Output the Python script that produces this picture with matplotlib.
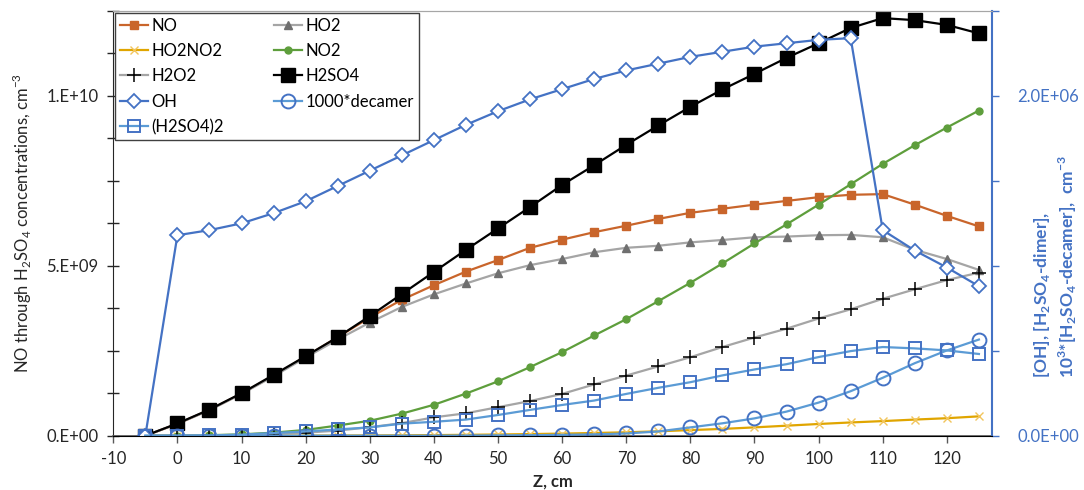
import matplotlib
matplotlib.use("Agg")
import matplotlib.pyplot as plt
from matplotlib.ticker import FixedLocator, MultipleLocator

plt.rcParams['font.family'] = ['Lato', 'DejaVu Sans']
plt.rcParams['mathtext.fontset'] = 'custom'
plt.rcParams['mathtext.rm'] = 'Lato'
plt.rcParams['mathtext.bf'] = 'Lato:bold'
plt.rcParams['axes.unicode_minus'] = False

# ---------------- data ----------------
z = [-5, 0, 5, 10, 15, 20, 25, 30, 35, 40, 45, 50, 55, 60, 65, 70, 75, 80,
     85, 90, 95, 100, 105, 110, 115, 120, 125]

no = [0, 3.5e8, 7.6e8, 1.24e9, 1.77e9, 2.33e9, 2.9e9, 3.48e9, 4.0e9, 4.43e9,
      4.83e9, 5.17e9, 5.53e9, 5.77e9, 5.99e9, 6.18e9, 6.38e9, 6.56e9, 6.68e9,
      6.8e9, 6.91e9, 7.02e9, 7.09e9, 7.11e9, 6.8e9, 6.47e9, 6.16e9]
ho2 = [0, 3.5e8, 7.5e8, 1.23e9, 1.75e9, 2.3e9, 2.83e9, 3.33e9, 3.79e9, 4.16e9,
       4.48e9, 4.78e9, 5.02e9, 5.2e9, 5.4e9, 5.53e9, 5.59e9, 5.69e9, 5.76e9,
       5.84e9, 5.86e9, 5.9e9, 5.91e9, 5.84e9, 5.47e9, 5.2e9, 4.88e9]
ho2no2 = [0, 0, 0, 1e6, 2e6, 3e6, 5e6, 8e6, 1.2e7, 1.8e7, 2.6e7, 3.6e7, 4.8e7,
          6.2e7, 8.0e7, 1.0e8, 1.3e8, 1.65e8, 2.0e8, 2.45e8, 2.95e8, 3.45e8,
          3.9e8, 4.3e8, 4.75e8, 5.15e8, 5.7e8]
no2 = [0, 0, 1.5e7, 4e7, 9e7, 1.7e8, 3.0e8, 4.4e8, 6.5e8, 9.1e8, 1.24e9, 1.6e9,
       2.02e9, 2.46e9, 2.95e9, 3.43e9, 3.96e9, 4.5e9, 5.07e9, 5.66e9, 6.22e9,
       6.8e9, 7.4e9, 8.0e9, 8.55e9, 9.07e9, 9.57e9]
h2o2 = [0, 0, 1e7, 2.5e7, 5e7, 9e7, 1.5e8, 2.5e8, 3.7e8, 5.4e8, 6.6e8, 8.4e8,
        1.02e9, 1.23e9, 1.51e9, 1.77e9, 2.04e9, 2.31e9, 2.61e9, 2.89e9, 3.15e9,
        3.45e9, 3.72e9, 4.03e9, 4.31e9, 4.58e9, 4.8e9]
h2so4 = [0, 3.6e8, 7.7e8, 1.25e9, 1.79e9, 2.34e9, 2.9e9, 3.52e9, 4.17e9, 4.82e9,
         5.47e9, 6.1e9, 6.73e9, 7.38e9, 7.96e9, 8.56e9, 9.13e9, 9.68e9, 1.019e10,
         1.065e10, 1.112e10, 1.155e10, 1.2e10, 1.229e10, 1.223e10, 1.209e10,
         1.184e10]
oh = [0, 1.18e6, 1.21e6, 1.25e6, 1.31e6, 1.38e6, 1.47e6, 1.56e6, 1.65e6, 1.74e6,
      1.83e6, 1.91e6, 1.98e6, 2.04e6, 2.1e6, 2.15e6, 2.19e6, 2.23e6, 2.26e6,
      2.29e6, 2.31e6, 2.33e6, 2.34e6, 1.21e6, 1.09e6, 0.99e6, 0.88e6]
decamer1000 = [0, 0, 0, 0, 0, 0, 0, 0, 0, 0, 1e3, 2e3, 3e3, 5e3, 8e3, 1.3e4,
               2.5e4, 4.9e4, 7.3e4, 1.02e5, 1.42e5, 1.95e5, 2.62e5, 3.41e5,
               4.27e5, 5.02e5, 5.66e5]
dimer = [0, 0, 2e3, 6e3, 1.6e4, 2.5e4, 3.7e4, 4.9e4, 7.1e4, 8.2e4, 9.5e4,
         1.22e5, 1.52e5, 1.81e5, 2.07e5, 2.46e5, 2.82e5, 3.15e5, 3.55e5, 3.9e5,
         4.21e5, 4.63e5, 4.98e5, 5.22e5, 5.14e5, 5.02e5, 4.81e5]

x_ticks = [-10, 0, 10, 20, 30, 40, 50, 60, 70, 80, 90, 100, 110, 120]
left_ticks = [0, 5e9, 1e10]
left_labels = ['0.E+00', '5.E+09', '1.E+10']
right_ticks = [0, 2e6]
right_labels = ['0.0E+00', '2.0E+06']

# ---------------- figure ----------------
BLUE = '#4472C4'
LBLUE = '#5B9BD5'
TXT = '#262626'
fig = plt.figure(figsize=(10.84, 4.90), dpi=100)
ax = fig.add_axes([0.1045, 0.1108, 0.8104, 0.8668])
ax2 = ax.twinx()

lw = 1.6
h_no, = ax.plot(z, no, color='#C9652B', lw=lw, marker='s', ms=5.5, mec='#C9652B', mfc='#C9652B', label='NO')
h_ho2, = ax.plot(z, ho2, color='#A5A5A5', lw=lw, marker='^', ms=5.5, mec='#6F6F6F', mfc='#6F6F6F', label='HO2')
h_ho2no2, = ax.plot(z, ho2no2, color='#E0A500', lw=lw, marker='x', ms=5.5, mec='#F2C55C', mew=1.0, label='HO2NO2')
h_no2, = ax.plot(z, no2, color='#5E9E3C', lw=lw, marker='o', ms=5, mec='#5E9E3C', mfc='#5E9E3C', label='NO2')
h_h2o2, = ax.plot(z, h2o2, color='#A5A5A5', lw=lw, marker='+', ms=10, mec='black', mew=1.1, label='H2O2')
h_h2so4, = ax.plot(z, h2so4, color='black', lw=lw, marker='s', ms=10.5, mec='black', mfc='black', label='H2SO4')

h_oh, = ax2.plot(z, oh, color=BLUE, lw=lw, marker='D', ms=7.5, mec=BLUE, mfc='white', mew=1.3, label='OH')
h_dec, = ax2.plot(z, decamer1000, color=LBLUE, lw=lw, marker='o', ms=10, mec=BLUE, mfc='none', mew=1.4, label='1000*decamer')
h_dim, = ax2.plot(z, dimer, color=LBLUE, lw=lw, marker='s', ms=8.5, mec=BLUE, mfc='none', mew=1.4, label='(H2SO4)2')

# axes ranges / ticks
ax.set_xlim(-10, 127)
ax.set_ylim(0, 1.25e10)
ax2.set_ylim(0, 2.5e6)

ax.xaxis.set_major_locator(FixedLocator(x_ticks))
ax.set_yticks(left_ticks)
ax.set_yticklabels(left_labels)
ax.yaxis.set_minor_locator(MultipleLocator(1.25e9))
ax2.set_yticks(right_ticks)
ax2.set_yticklabels(right_labels)
ax2.yaxis.set_minor_locator(MultipleLocator(5e5))

ax.tick_params(axis='x', direction='out', length=5, width=1, color='#595959', labelsize=12, pad=6, labelcolor=TXT)
ax.tick_params(axis='y', which='both', direction='inout', length=9, width=1, color=TXT, labelsize=12, labelcolor=TXT, pad=6)
ax2.tick_params(axis='y', which='both', direction='out', length=5, width=1, color=BLUE, labelsize=12, labelcolor=BLUE, pad=13.5)

ax.spines['left'].set_color(TXT)
ax.spines['bottom'].set_color('#595959')
ax.spines['bottom'].set_linewidth(1.2)
ax.spines['top'].set_color('#A6A6A6')
ax2.spines['top'].set_color('#A6A6A6')
ax2.spines['right'].set_color(BLUE)
ax2.spines['right'].set_linewidth(1.5)
ax2.spines['left'].set_visible(False)
ax.spines['right'].set_visible(False)

ax.set_xlabel('Z, cm', fontsize=12, fontweight='bold', color=TXT, labelpad=5)

fig.text(22 / 1084, 1 - 223 / 490, 'NO through H$_2$SO$_4$ concentrations, cm$^{-3}$',
         rotation=90, ha='center', va='center', fontsize=12, color=TXT)

fig.text(1042 / 1084, 1 - 378 / 490, r'[OH], [H$_\mathbf{2}$SO$_\mathbf{4}$-dimer],',
         rotation=90, ha='center', va='bottom', fontsize=12.5, color=BLUE, fontweight='bold')
fig.text(1068 / 1084, 1 - 378 / 490, r'10$^\mathbf{3}$*[H$_\mathbf{2}$SO$_\mathbf{4}$-decamer],  cm$^\mathbf{-3}$',
         rotation=90, ha='center', va='bottom', fontsize=12.5, color=BLUE, fontweight='bold')

handles = [h_no, h_ho2no2, h_h2o2, h_oh, h_dim, h_ho2, h_no2, h_h2so4, h_dec]
leg = ax2.legend(handles=handles, labels=[h.get_label() for h in handles],
                 ncol=2, loc='upper left', bbox_to_anchor=(0.0, 1.0),
                 fontsize=12, frameon=True, fancybox=False, framealpha=1,
                 edgecolor='#404040', borderpad=0.3, labelspacing=0.56,
                 handlelength=1.7, handletextpad=0.2, columnspacing=3.0,
                 borderaxespad=0.1)
leg.get_frame().set_linewidth(1.0)
leg.set_zorder(10)

fig.savefig('out.png', dpi=100)
